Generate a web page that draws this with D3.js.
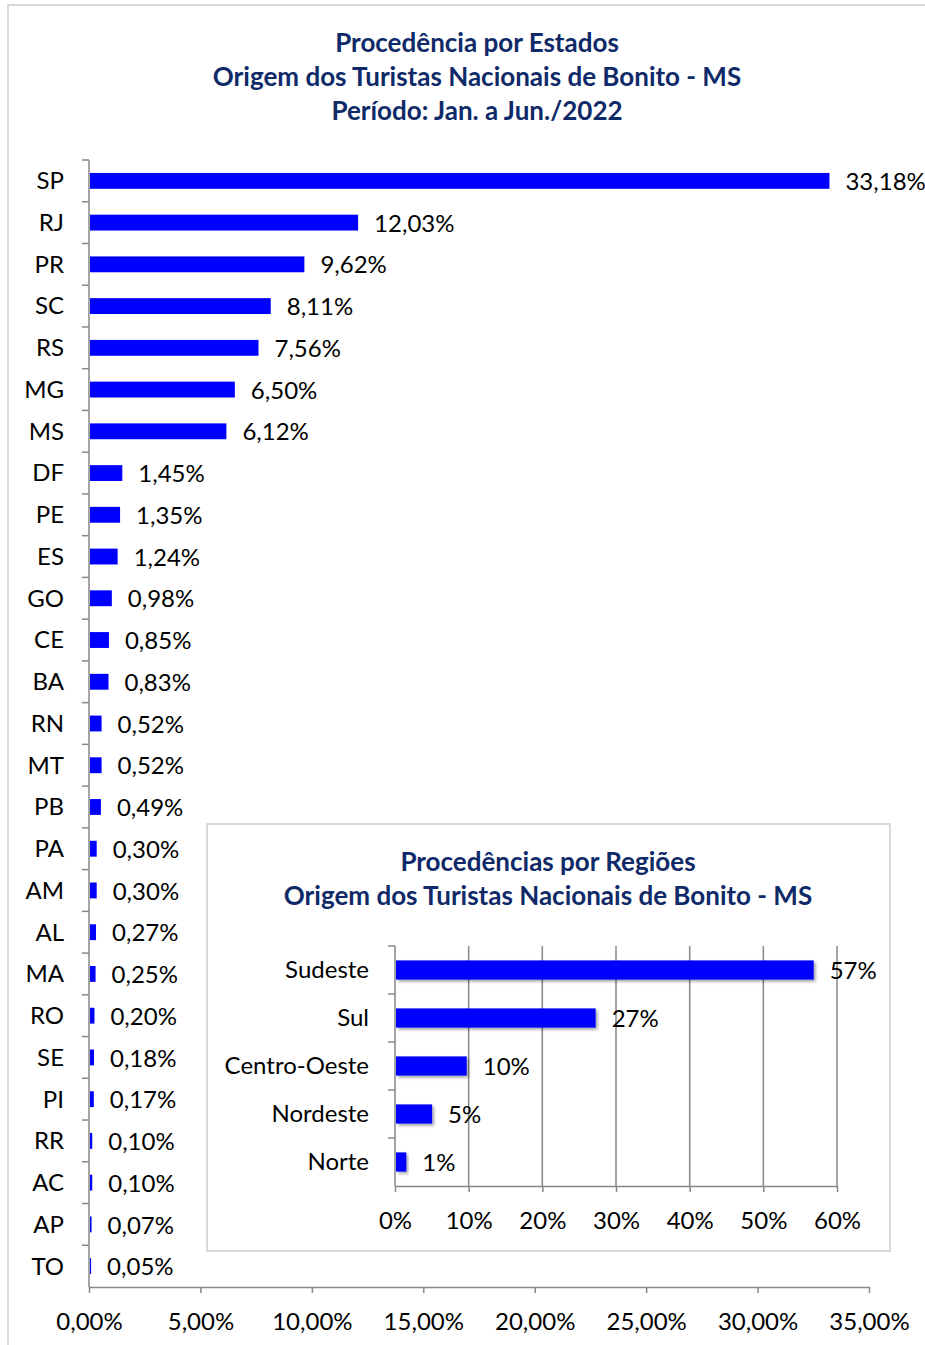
<!DOCTYPE html>
<html>
<head>
<meta charset="utf-8">
<script src="https://cdn.jsdelivr.net/npm/d3@7"></script>
<style>
  body { margin: 0; background: #fff; }
  svg text { font-family: Lato, "Noto Sans", sans-serif; }
</style>
</head>
<body>
<div id="chart"></div>
<script>
// states data
const states = ["SP","RJ","PR","SC","RS","MG","MS","DF","PE","ES","GO","CE","BA","RN","MT","PB","PA","AM","AL","MA","RO","SE","PI","RR","AC","AP","TO"];
const stateValues = [33.18,12.03,9.62,8.11,7.56,6.50,6.12,1.45,1.35,1.24,0.98,0.85,0.83,0.52,0.52,0.49,0.30,0.30,0.27,0.25,0.20,0.18,0.17,0.10,0.10,0.07,0.05];
const stateTicks = [0,5,10,15,20,25,30,35];

// regions data
const regions = ["Sudeste","Sul","Centro-Oeste","Nordeste","Norte"];
const regionValues = [56.7,27.1,9.6,4.9,1.4];
const regionLabels = ["57%","27%","10%","5%","1%"];
const regionTicks = [0,10,20,30,40,50,60];

const titleLines = ["Procedência por Estados","Origem dos Turistas Nacionais de Bonito - MS","Período: Jan. a Jun./2022"];
const insetTitleLines = ["Procedências por Regiões","Origem dos Turistas Nacionais de Bonito - MS"];

const W = 925, H = 1345;
const axisColor = "#878787";
const barColor = "#0000ff";
const titleColor = "#0f2a68";
const fontSize = "24px";

const svg = d3.select("#chart")
  .append("svg")
    .attr("width", W)
    .attr("height", H);

// shadow for the inset bars
const defs = svg.append("defs");
defs.append("filter")
    .attr("id", "shadow")
    .attr("x", "-10%").attr("y", "-30%")
    .attr("width", "130%").attr("height", "190%")
  .append("feDropShadow")
    .attr("dx", 2).attr("dy", 2)
    .attr("stdDeviation", 1.5)
    .attr("flood-color", "#000")
    .attr("flood-opacity", 0.35);

// outer chart border
svg.append("rect")
  .attr("x", 8).attr("y", 5)
  .attr("width", W).attr("height", H)
  .attr("fill", "#fff")
  .attr("stroke", "#d9d9d9")
  .attr("stroke-width", 2);

// title
svg.append("g")
  .selectAll("text")
  .data(titleLines)
  .enter()
  .append("text")
    .attr("x", 477)
    .attr("y", (d, i) => 43 + i * 34)
    .attr("dy", "0.35em")
    .attr("text-anchor", "middle")
    .style("font-size", "26px")
    .style("font-weight", "bold")
    .style("fill", titleColor)
    .text(d => d);

// ---- main chart ----
const x = d3.scaleLinear()
  .domain([0, 35])
  .range([89, 869]);

const y = d3.scaleBand()
  .domain(states)
  .range([160, 1287])
  .paddingInner(0.62)
  .paddingOuter(0.31);

const fmt = v => v.toFixed(2).replace(".", ",") + "%";

// x axis
const xAxis = svg.append("g")
  .attr("transform", "translate(0,1287)")
  .call(d3.axisBottom(x).tickValues(stateTicks).tickSize(6).tickSizeOuter(0).tickFormat(fmt).tickPadding(20));
xAxis.select(".domain").attr("stroke", axisColor).attr("stroke-width", 1.5);
xAxis.selectAll(".tick line").attr("stroke", axisColor).attr("stroke-width", 1.5);
xAxis.selectAll(".tick text")
  .style("font-size", fontSize)
  .style("fill", "#000");

// y axis line + ticks between categories
const step = y.step();
svg.append("line")
  .attr("x1", 89).attr("x2", 89)
  .attr("y1", 160).attr("y2", 1287)
  .attr("stroke", axisColor)
  .attr("stroke-width", 1.5);

svg.selectAll("yTicks")
  .data(d3.range(states.length))
  .enter()
  .append("line")
    .attr("x1", 82).attr("x2", 89)
    .attr("y1", i => 160 + i * step)
    .attr("y2", i => 160 + i * step)
    .attr("stroke", axisColor)
    .attr("stroke-width", 1.5);

svg.selectAll("yLabels")
  .data(states)
  .enter()
  .append("text")
    .attr("x", 64)
    .attr("y", d => y(d) + y.bandwidth() / 2)
    .attr("dy", "0.35em")
    .attr("text-anchor", "end")
    .style("font-size", fontSize)
    .text(d => d);

const stateData = states.map((s, i) => ({ name: s, value: stateValues[i] }));

svg.selectAll("stateBars")
  .data(stateData)
  .enter()
  .append("rect")
    .attr("x", x(0) + 1)
    .attr("y", d => y(d.name))
    .attr("width", d => Math.max(x(d.value) - x(0), 0.6))
    .attr("height", y.bandwidth())
    .attr("fill", barColor);

svg.selectAll("stateLabels")
  .data(stateData)
  .enter()
  .append("text")
    .attr("x", d => x(d.value) + 17)
    .attr("y", d => y(d.name) + y.bandwidth() / 2)
    .attr("dy", "0.38em")
    .style("font-size", fontSize)
    .text(d => fmt(d.value));

// ---- inset chart ----
svg.append("rect")
  .attr("x", 207).attr("y", 824)
  .attr("width", 683).attr("height", 427)
  .attr("fill", "#fff")
  .attr("stroke", "#d9d9d9")
  .attr("stroke-width", 2);

svg.append("g")
  .selectAll("text")
  .data(insetTitleLines)
  .enter()
  .append("text")
    .attr("x", 548)
    .attr("y", (d, i) => 862 + i * 34)
    .attr("dy", "0.35em")
    .attr("text-anchor", "middle")
    .style("font-size", "26px")
    .style("font-weight", "bold")
    .style("fill", titleColor)
    .text(d => d);

const rx = d3.scaleLinear()
  .domain([0, 60])
  .range([395, 837]);

const ry = d3.scaleBand()
  .domain(regions)
  .range([946, 1186])
  .paddingInner(0.6)
  .paddingOuter(0.3);

// vertical gridlines
svg.selectAll("insetGrid")
  .data(regionTicks.slice(1))
  .enter()
  .append("line")
    .attr("x1", d => rx(d)).attr("x2", d => rx(d))
    .attr("y1", 946).attr("y2", 1186)
    .attr("stroke", axisColor)
    .attr("stroke-width", 1.5);

const rxAxis = svg.append("g")
  .attr("transform", "translate(0,1186)")
  .call(d3.axisBottom(rx).tickValues(regionTicks).tickSize(6).tickSizeOuter(0).tickFormat(d => d + "%").tickPadding(20));
rxAxis.select(".domain").attr("stroke", axisColor).attr("stroke-width", 1.5);
rxAxis.selectAll(".tick line").attr("stroke", axisColor).attr("stroke-width", 1.5);
rxAxis.selectAll(".tick text")
  .style("font-size", fontSize)
  .style("fill", "#000");

const rstep = ry.step();
svg.append("line")
  .attr("x1", 395).attr("x2", 395)
  .attr("y1", 946).attr("y2", 1186)
  .attr("stroke", axisColor)
  .attr("stroke-width", 1.5);

svg.selectAll("ryTicks")
  .data(d3.range(regions.length))
  .enter()
  .append("line")
    .attr("x1", 388).attr("x2", 395)
    .attr("y1", i => 946 + i * rstep)
    .attr("y2", i => 946 + i * rstep)
    .attr("stroke", axisColor)
    .attr("stroke-width", 1.5);

svg.selectAll("ryLabels")
  .data(regions)
  .enter()
  .append("text")
    .attr("x", 369)
    .attr("y", d => ry(d) + ry.bandwidth() / 2)
    .attr("dy", "0.35em")
    .attr("text-anchor", "end")
    .style("font-size", fontSize)
    .text(d => d);

const regionData = regions.map((r, i) => ({ name: r, value: regionValues[i], label: regionLabels[i] }));

svg.selectAll("regionBars")
  .data(regionData)
  .enter()
  .append("rect")
    .attr("x", rx(0) + 1)
    .attr("y", d => ry(d.name))
    .attr("width", d => rx(d.value) - rx(0))
    .attr("height", ry.bandwidth())
    .attr("fill", barColor)
    .attr("filter", "url(#shadow)");

svg.selectAll("regionLabels")
  .data(regionData)
  .enter()
  .append("text")
    .attr("x", d => rx(d.value) + 17)
    .attr("y", d => ry(d.name) + ry.bandwidth() / 2)
    .attr("dy", "0.38em")
    .style("font-size", fontSize)
    .text(d => d.label);
</script>
</body>
</html>
